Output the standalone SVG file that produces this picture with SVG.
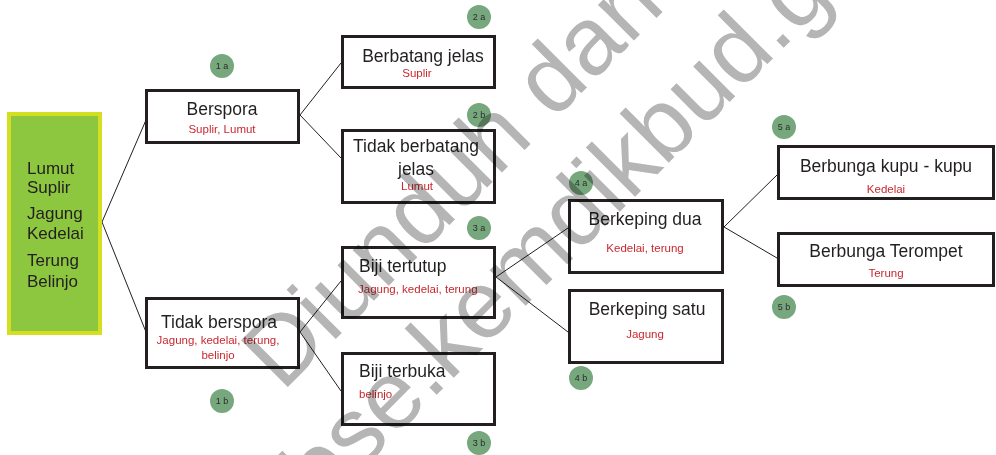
<svg xmlns="http://www.w3.org/2000/svg" width="996" height="455" viewBox="0 0 996 455">
<style>
.box{fill:#fff;stroke:#231f20;stroke-width:3}
.t{font-family:"Liberation Sans",Arial,sans-serif;font-size:17.5px;fill:#231f20}
.r{font-family:"Liberation Sans",Arial,sans-serif;font-size:11.5px;fill:#c8282f}
.m{text-anchor:middle}
.bd circle{fill:#77a77d}
.bd text{font-family:"Liberation Sans",Arial,sans-serif;font-size:9px;fill:#2b2b2b;text-anchor:middle}
.wm{font-family:"Liberation Sans",Arial,sans-serif;font-size:96px;fill:#b5b5b5}
#connectors line{stroke:#231f20;stroke-width:1}
</style>
<rect width="996" height="455" fill="#fff"/>
<g id="connectors">
<line x1="102" y1="222" x2="146" y2="120"/>
<line x1="102" y1="222" x2="146" y2="332"/>
<line x1="300" y1="115" x2="341" y2="63"/>
<line x1="300" y1="115" x2="341" y2="158"/>
<line x1="300" y1="332" x2="341" y2="281"/>
<line x1="300" y1="332" x2="341" y2="391"/>
<line x1="496" y1="277" x2="568" y2="228"/>
<line x1="496" y1="277" x2="568" y2="332"/>
<line x1="724" y1="227" x2="777" y2="175"/>
<line x1="724" y1="227" x2="777" y2="258"/>
</g>
<g id="root">
<rect x="9" y="114" width="91" height="219" fill="#8dc63f" stroke="#d5df22" stroke-width="4"/>
<text class="t" style="font-size:17px" x="27" y="174">Lumut</text>
<text class="t" style="font-size:17px" x="27" y="193">Suplir</text>
<text class="t" style="font-size:17px" x="27" y="219">Jagung</text>
<text class="t" style="font-size:17px" x="27" y="239">Kedelai</text>
<text class="t" style="font-size:17px" x="27" y="266">Terung</text>
<text class="t" style="font-size:17px" x="27" y="287">Belinjo</text>
</g>
<g id="berspora">
<rect class="box" x="146.5" y="90.5" width="152" height="52"/>
<text class="t m" x="222" y="115">Berspora</text>
<text class="r m" x="222" y="133">Suplir, Lumut</text>
</g>
<g id="tidak-berspora">
<rect class="box" x="146.5" y="298.5" width="152" height="69"/>
<text class="t m" x="219" y="328">Tidak berspora</text>
<text class="r m" x="218" y="344">Jagung, kedelai, terung,</text>
<text class="r m" x="218" y="359">belinjo</text>
</g>
<g id="berbatang-jelas">
<rect class="box" x="342.5" y="36.5" width="152" height="51"/>
<text class="t m" x="423" y="62">Berbatang jelas</text>
<text class="r m" x="417" y="77">Suplir</text>
</g>
<g id="tidak-berbatang-jelas">
<rect class="box" x="342.5" y="130.5" width="152" height="72"/>
<text class="t m" x="416" y="152">Tidak berbatang</text>
<text class="t m" x="416" y="175">jelas</text>
<text class="r m" x="417" y="190">Lumut</text>
</g>
<g id="biji-tertutup">
<rect class="box" x="342.5" y="247.5" width="152" height="70"/>
<text class="t" x="359" y="272">Biji tertutup</text>
<text class="r" x="358" y="293">Jagung, kedelai, terung</text>
</g>
<g id="biji-terbuka">
<rect class="box" x="342.5" y="353.5" width="152" height="71"/>
<text class="t" x="359" y="377">Biji terbuka</text>
<text class="r" x="359" y="398">belinjo</text>
</g>
<g id="berkeping-dua">
<rect class="box" x="569.5" y="200.5" width="153" height="72"/>
<text class="t m" x="645" y="225">Berkeping dua</text>
<text class="r m" x="645" y="252">Kedelai, terung</text>
</g>
<g id="berkeping-satu">
<rect class="box" x="569.5" y="290.5" width="153" height="72"/>
<text class="t m" x="647" y="315">Berkeping satu</text>
<text class="r m" x="645" y="338">Jagung</text>
</g>
<g id="berbunga-kupu">
<rect class="box" x="778.5" y="146.5" width="215" height="52"/>
<text class="t m" x="886" y="172">Berbunga kupu - kupu</text>
<text class="r m" x="886" y="193">Kedelai</text>
</g>
<g id="berbunga-terompet">
<rect class="box" x="778.5" y="233.5" width="215" height="52"/>
<text class="t m" x="886" y="257">Berbunga Terompet</text>
<text class="r m" x="886" y="277">Terung</text>
</g>
<g id="badge-1a" class="bd"><circle cx="222" cy="66" r="12"/><text x="222" y="69">1 a</text></g>
<g id="badge-1b" class="bd"><circle cx="222" cy="401" r="12"/><text x="222" y="404">1 b</text></g>
<g id="badge-2a" class="bd"><circle cx="479" cy="17" r="12"/><text x="479" y="20">2 a</text></g>
<g id="badge-2b" class="bd"><circle cx="479" cy="115" r="12"/><text x="479" y="118">2 b</text></g>
<g id="badge-3a" class="bd"><circle cx="479" cy="228" r="12"/><text x="479" y="231">3 a</text></g>
<g id="badge-3b" class="bd"><circle cx="479" cy="443" r="12"/><text x="479" y="446">3 b</text></g>
<g id="badge-4a" class="bd"><circle cx="581" cy="183" r="12"/><text x="581" y="186">4 a</text></g>
<g id="badge-4b" class="bd"><circle cx="581" cy="378" r="12"/><text x="581" y="381">4 b</text></g>
<g id="badge-5a" class="bd"><circle cx="784" cy="127" r="12"/><text x="784" y="130">5 a</text></g>
<g id="badge-5b" class="bd"><circle cx="784" cy="307" r="12"/><text x="784" y="310">5 b</text></g>
<g id="watermark" transform="rotate(-45)" style="mix-blend-mode:multiply">
<text class="wm" x="-78" y="477">Diunduh dari</text>
<text class="wm" x="-134" y="588">bse.kemdikbud.go.id</text>
</g>
</svg>
